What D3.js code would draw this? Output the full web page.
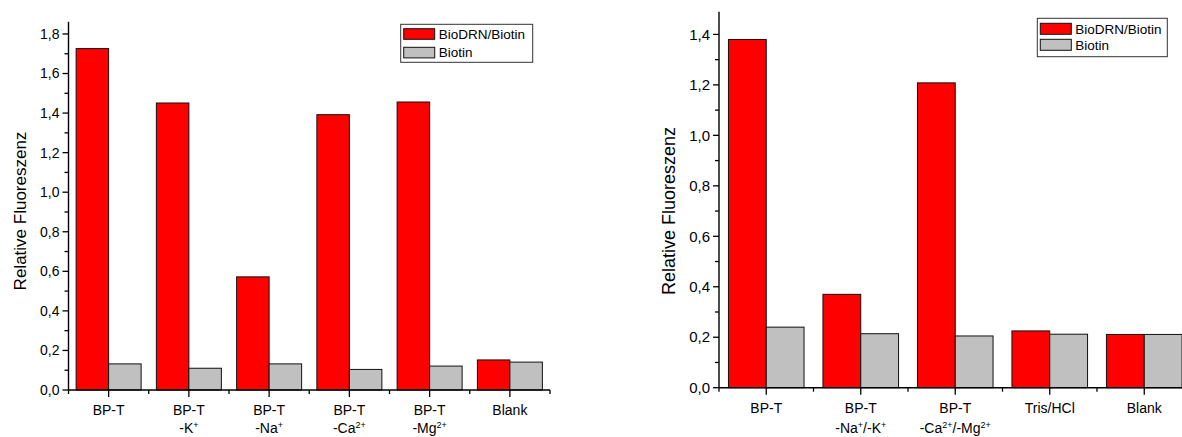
<!DOCTYPE html>
<html>
<head>
<meta charset="utf-8">
<script src="https://cdn.jsdelivr.net/npm/d3@7"></script>
<style>
  body { margin: 0; background: #fff; }
  svg { display: block; }
  text { font-family: Arial, "Liberation Sans", sans-serif; fill: #000; }
</style>
</head>
<body>
<svg id="chart" width="1182" height="437"></svg>
<script>
// Category labels: "|" starts a second line, {..} marks a superscript
const catsA = ["BP-T", "BP-T|-K{+}", "BP-T|-Na{+}", "BP-T|-Ca{2+}", "BP-T|-Mg{2+}", "Blank"];
const bioDrnA = [1.726, 1.451, 0.572, 1.392, 1.456, 0.152];
const biotinA = [0.132, 0.110, 0.132, 0.104, 0.121, 0.141];

const catsB = ["BP-T", "BP-T|-Na{+}/-K{+}", "BP-T|-Ca{2+}/-Mg{2+}", "Tris/HCl", "Blank"];
const bioDrnB = [1.38, 0.370, 1.208, 0.225, 0.211];
const biotinB = [0.240, 0.214, 0.205, 0.212, 0.211];

const yTicksA = [0, 0.2, 0.4, 0.6, 0.8, 1.0, 1.2, 1.4, 1.6, 1.8];
const yTicksB = [0, 0.2, 0.4, 0.6, 0.8, 1.0, 1.2, 1.4];

const seriesNames = ["BioDRN/Biotin", "Biotin"];
const seriesColors = ["#ff0000", "#c0c0c0"];
const yTitle = "Relative Fluoreszenz";

const svg = d3.select("#chart");
const fmt = v => d3.format(".1f")(v).replace(".", ",");

// write a label with {..} superscripts into a text element
function richText(sel, str, supSize) {
  const parts = str.split(/(\{[^}]*\})/).filter(s => s.length);
  parts.forEach(p => {
    if (p.startsWith("{")) {
      sel.append("tspan").attr("font-size", supSize).attr("baseline-shift", "60%").text(p.slice(1, -1));
    } else {
      sel.append("tspan").text(p);
    }
  });
}

function drawPanel(o) {
  const g = svg.append("g");
  const y = d3.scaleLinear().domain([0, o.yMax]).range([o.yBase, o.yTop]);
  const x = d3.scaleBand().domain(o.cats).range([o.xLeft, o.xRight])
    .paddingInner(o.padIn).paddingOuter(o.padIn / 2);
  const xs = d3.scaleBand().domain([0, 1]).range([0, x.bandwidth()]);

  const rows = o.cats.map((c, i) => ({ c, v: [o.red[i], o.grey[i]] }));

  // bars
  const grp = g.selectAll("g.grp").data(rows).join("g")
    .attr("transform", d => `translate(${x(d.c)},0)`);
  grp.selectAll("rect").data(d => d.v).join("rect")
    .attr("x", (d, i) => xs(i))
    .attr("y", d => y(d))
    .attr("width", xs.bandwidth())
    .attr("height", d => o.yBase - y(d))
    .attr("fill", (d, i) => seriesColors[i])
    .attr("stroke", "#111")
    .attr("stroke-width", 1);

  // y axis: major ticks labelled, minor ticks between
  const minor = d3.range(0, o.yMax + 1e-9, 0.1).map(v => +v.toFixed(2))
    .filter(v => !o.yTicks.some(t => Math.abs(t - v) < 1e-6));
  const yAx = g.append("g").attr("transform", `translate(${o.xLeft},0)`);
  yAx.append("line").attr("x1", 0).attr("x2", 0).attr("y1", o.yTop).attr("y2", o.yBase)
    .attr("stroke", "#000").attr("stroke-width", 1.4);
  yAx.selectAll("line.maj").data(o.yTicks).join("line").attr("class", "maj")
    .attr("x1", -6).attr("x2", 0).attr("y1", d => y(d)).attr("y2", d => y(d))
    .attr("stroke", "#000").attr("stroke-width", 1.3);
  yAx.selectAll("line.min").data(minor).join("line").attr("class", "min")
    .attr("x1", -4).attr("x2", 0).attr("y1", d => y(d)).attr("y2", d => y(d))
    .attr("stroke", "#000").attr("stroke-width", 1.3);
  yAx.selectAll("text").data(o.yTicks).join("text")
    .attr("x", -9).attr("y", d => y(d)).attr("dy", "0.35em")
    .attr("text-anchor", "end").attr("font-size", o.tickSize)
    .text(fmt);

  // x axis: major ticks at group centres, minor at group boundaries
  const xAx = g.append("g");
  xAx.append("line").attr("x1", o.xLeft).attr("x2", o.xRight).attr("y1", o.yBase).attr("y2", o.yBase)
    .attr("stroke", "#000").attr("stroke-width", 1.4);
  const bounds = d3.range(o.cats.length + 1).map(i => o.xLeft + i * x.step());
  xAx.selectAll("line.min").data(bounds).join("line").attr("class", "min")
    .attr("x1", d => d).attr("x2", d => d).attr("y1", o.yBase).attr("y2", o.yBase + 4)
    .attr("stroke", "#000").attr("stroke-width", 1.3);
  xAx.selectAll("line.maj").data(o.cats).join("line").attr("class", "maj")
    .attr("x1", d => x(d) + x.bandwidth() / 2).attr("x2", d => x(d) + x.bandwidth() / 2)
    .attr("y1", o.yBase).attr("y2", o.yBase + 7)
    .attr("stroke", "#000").attr("stroke-width", 1.3);
  o.cats.forEach(c => {
    const cx = x(c) + x.bandwidth() / 2;
    c.split("|").forEach((line, li) => {
      const t = xAx.append("text").attr("x", cx).attr("y", o.labelY[li])
        .attr("text-anchor", "middle").attr("font-size", o.labelSize);
      richText(t, line, o.supSize);
    });
  });

  // axis title
  g.append("text")
    .attr("transform", `translate(${o.titleX},${o.titleY}) rotate(-90)`)
    .attr("text-anchor", "middle").attr("font-size", o.titleSize)
    .text(yTitle);

  // legend
  const L = o.legend;
  const lg = g.append("g").attr("transform", `translate(${L.x},${L.y})`);
  lg.append("rect").attr("width", L.w).attr("height", L.h)
    .attr("fill", "#fff").attr("stroke", "#333").attr("stroke-width", 1);
  seriesNames.forEach((n, i) => {
    const ry = L.pad + i * L.gap;
    lg.append("rect").attr("x", 3).attr("y", ry).attr("width", 31).attr("height", L.sh)
      .attr("fill", seriesColors[i]).attr("stroke", "#111").attr("stroke-width", 1);
    lg.append("text").attr("x", 38).attr("y", ry + L.sh - 0.5)
      .attr("font-size", L.size).text(n);
  });
}

drawPanel({
  cats: catsA, red: bioDrnA, grey: biotinA, yTicks: yTicksA, yMax: 1.862,
  xLeft: 68.5, xRight: 550, yBase: 390, yTop: 21.7, padIn: 0.19,
  tickSize: 14, labelSize: 14, supSize: 9, titleSize: 17,
  labelY: [415, 433], titleX: 26, titleY: 211,
  legend: { x: 400.7, y: 24.3, w: 132, h: 38, pad: 4.4, gap: 18.6, sh: 10.6, size: 13.5 }
});

drawPanel({
  cats: catsB, red: bioDrnB, grey: biotinB, yTicks: yTicksB, yMax: 1.49,
  xLeft: 719, xRight: 1191.5, yBase: 387.7, yTop: 11.7, padIn: 0.2,
  tickSize: 15, labelSize: 14, supSize: 9, titleSize: 18,
  labelY: [413, 433], titleX: 675, titleY: 211,
  legend: { x: 1037.3, y: 18.3, w: 130, h: 38.4, pad: 5, gap: 16, sh: 11, size: 13.5 }
});
</script>
</body>
</html>
